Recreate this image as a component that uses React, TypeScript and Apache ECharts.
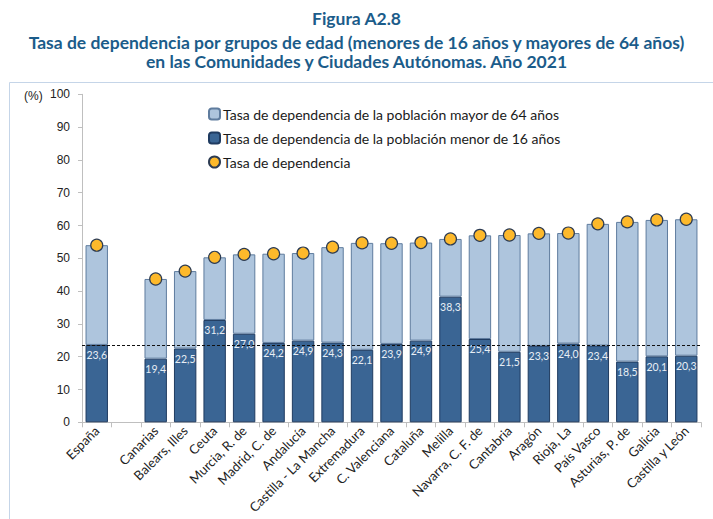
import React, { useEffect, useRef } from "react";
import * as echarts from "echarts";

const categories = [
  "España", "", "Canarias", "Balears, Illes", "Ceuta", "Murcia, R. de", "Madrid, C. de",
  "Andalucía", "Castilla - La Mancha", "Extremadura", "C. Valenciana", "Cataluña", "Melilla",
  "Navarra, C. F. de", "Cantabria", "Aragón", "Rioja, La", "País Vasco", "Asturias, P. de",
  "Galicia", "Castilla y León",
];
const menores16: (number | null)[] = [
  23.6, null, 19.4, 22.5, 31.2, 27.0, 24.2, 24.9, 24.3, 22.1, 23.9, 24.9, 38.3,
  25.4, 21.5, 23.3, 24.0, 23.4, 18.5, 20.1, 20.3,
];
const tasaTotal: (number | null)[] = [
  54.0, null, 43.7, 46.1, 50.3, 51.2, 51.4, 51.6, 53.4, 54.7, 54.6, 54.8, 55.9,
  57.0, 57.1, 57.6, 57.7, 60.5, 61.1, 61.7, 61.9,
];
const mayores64 = tasaTotal.map((t, i) =>
  t == null || menores16[i] == null ? null : +(t - (menores16[i] as number)).toFixed(1)
);
const referencia = 23.6;

const titleLines = [
  "Figura A2.8",
  "Tasa de dependencia por grupos de edad (menores de 16 años y mayores de 64 años)",
  "en las Comunidades y Ciudades Autónomas. Año 2021",
];
const legendNames = [
  "Tasa de dependencia de la población mayor de 64 años",
  "Tasa de dependencia de la población menor de 16 años",
  "Tasa de dependencia",
];

export default function App() {
  const ref = useRef<HTMLDivElement>(null);
  useEffect(() => {
    if (!ref.current) return;
    const chart = echarts.init(ref.current, null, { renderer: "svg" });
    const font = "Lato, 'Open Sans', sans-serif";
    const titleStyle = { fontFamily: font, fontSize: 17.5, lineHeight: 18, fontWeight: "bold", color: "#1B5C8A" };
    chart.setOption({
      animation: false,
      backgroundColor: "#fff",
      title: [
        { text: titleLines[0], left: "center", top: 4, padding: 5, textStyle: titleStyle },
        { text: titleLines[1], left: "center", top: 33, padding: 0, textStyle: titleStyle },
        { text: titleLines[2], left: "center", top: 52, padding: 0, textStyle: titleStyle },
      ],
      graphic: [
        { type: "rect", shape: { x: 9.5, y: 82.5, width: 800, height: 800 }, style: { fill: "none", stroke: "#C5D5E8", lineWidth: 1 }, silent: true },
        { type: "text", x: 24, y: 90, style: { text: "(%)", fontFamily: "'Liberation Sans', Arial, sans-serif", fontSize: 12, fill: "#222" } },
      ],
      legend: {
        data: legendNames,
        orient: "vertical",
        left: 203,
        top: 102,
        itemGap: 10,
        itemWidth: 11,
        itemHeight: 11,
        textStyle: { fontFamily: font, fontSize: 14, color: "#1a1a1a", padding: [0, 0, 0, -2] },
      },
      grid: { left: 82, right: 12, top: 94.3, bottom: 96.7 },
      xAxis: {
        type: "category",
        data: categories,
        axisLine: { lineStyle: { color: "#BFBFBF" } },
        axisTick: { show: true, length: 5, lineStyle: { color: "#BFBFBF" } },
        axisLabel: { rotate: 45, interval: 0, fontFamily: font, fontSize: 13, color: "#222", margin: 6 },
      },
      yAxis: {
        type: "value",
        min: 0,
        max: 100,
        interval: 10,
        splitLine: { show: false },
        axisLine: { show: true, lineStyle: { color: "#BFBFBF" } },
        axisTick: { show: true, length: 4, lineStyle: { color: "#BFBFBF" } },
        axisLabel: { fontFamily: "'Liberation Sans', Arial, sans-serif", fontSize: 12, color: "#222", margin: 12 },
      },
      series: [
        {
          name: legendNames[1],
          type: "bar",
          stack: "a",
          data: menores16,
          barCategoryGap: "24%",
          itemStyle: { color: "#3A6594", borderColor: "#1F3B60", borderWidth: 1 },
          label: {
            show: true,
            position: "insideTop",
            distance: 5,
            fontFamily: font,
            fontSize: 10.5,
            color: "#E8EEF5",
            formatter: (p: any) => p.value.toFixed(1).replace(".", ","),
          },
          markLine: {
            silent: true,
            symbol: "none",
            label: { show: false },
            lineStyle: { color: "#111", type: [3, 2], width: 1 },
            data: [{ yAxis: referencia }],
          },
        },
        {
          name: legendNames[0],
          type: "bar",
          stack: "a",
          data: mayores64,
          itemStyle: { color: "#AEC5DD", borderColor: "#5F7C9E", borderWidth: 1 },
        },
        {
          name: legendNames[2],
          type: "scatter",
          data: tasaTotal,
          symbolSize: 12,
          itemStyle: { color: "#FDB92B", borderColor: "#2C3B52", borderWidth: 1.2, opacity: 1 },
          z: 5,
        },
      ],
    });
    return () => chart.dispose();
  }, []);
  return <div ref={ref} style={{ position: "absolute", left: 0, top: 0, width: 713, height: 519 }} />;
}
